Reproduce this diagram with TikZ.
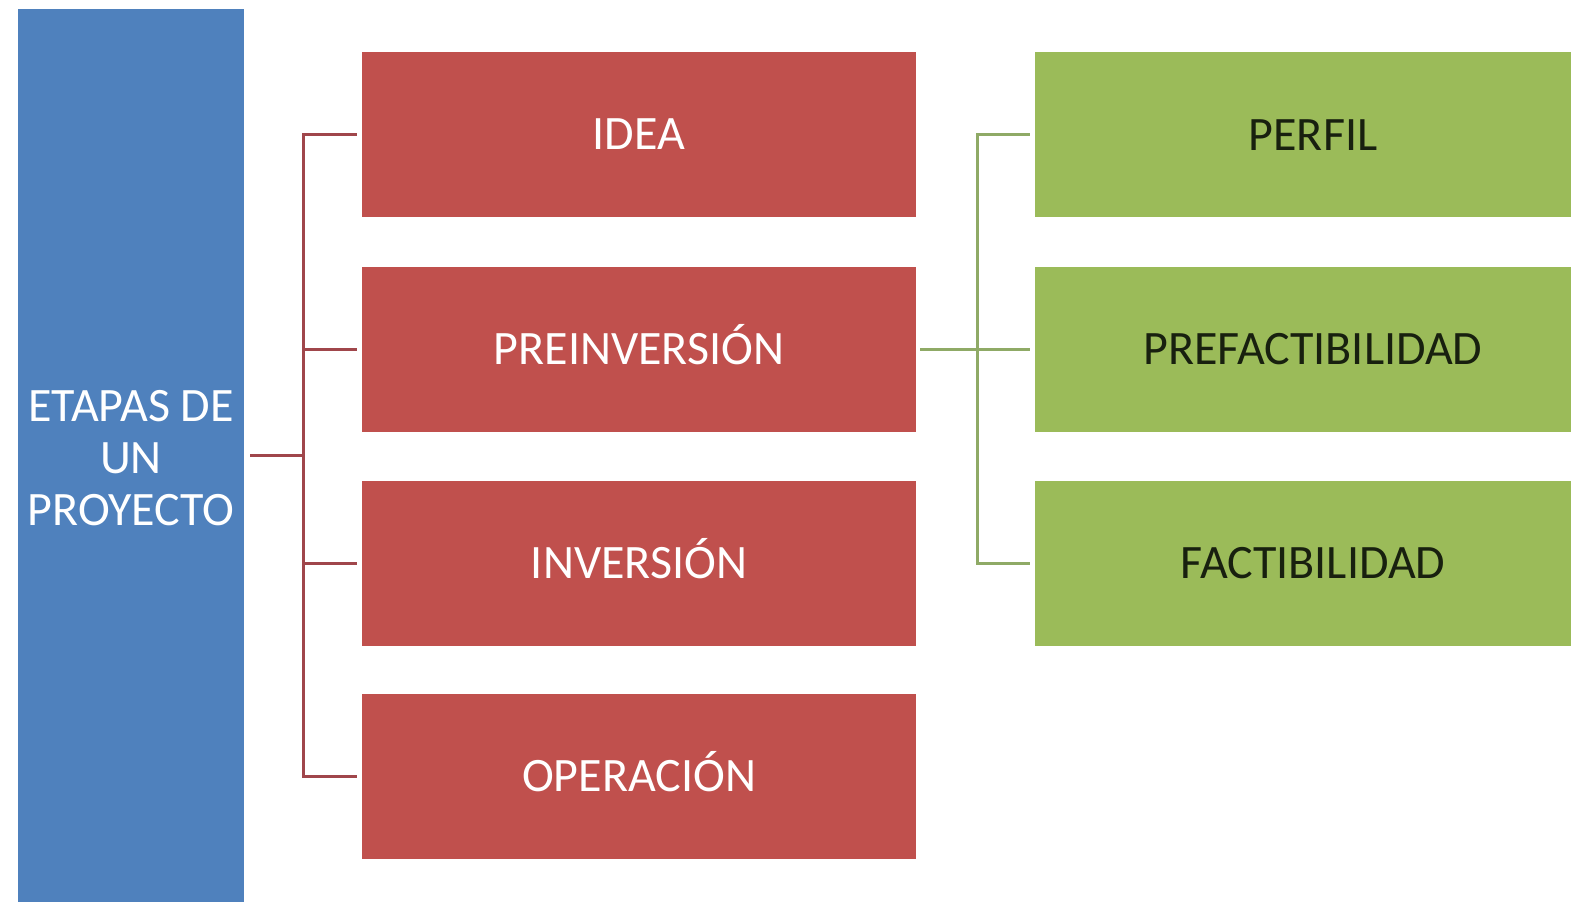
\documentclass[tikz,border=0pt]{standalone}
\usepackage{fontspec}
\setmainfont{Carlito}
\definecolor{cblue}{HTML}{4F81BD}
\definecolor{cred}{HTML}{C0504D}
\definecolor{cgreen}{HTML}{9BBB59}
\definecolor{credline}{HTML}{A0464B}
\definecolor{cgreenline}{HTML}{8FAA66}
\definecolor{cgtext}{HTML}{18200F}
\begin{document}
\begin{tikzpicture}[x=1pt,y=-1pt,
  box/.style={inner sep=0pt, draw=none, font=\fontsize{48}{52}\selectfont},
  redbox/.style={box, fill=cred, text=white, minimum width=554pt, minimum height=165pt, text height=31pt, text depth=0pt},
  greenbox/.style={box, fill=cgreen, text=cgtext, minimum width=556pt, minimum height=165pt, text height=31pt, text depth=0pt},
  redline/.style={draw=credline, line width=3pt},
  greenline/.style={draw=cgreenline, line width=3pt}]
\useasboundingbox[fill=white] (0,0) rectangle (1571,904);
\node[box, fill=cblue, minimum width=226pt, minimum height=893pt,
  label={[inner sep=0pt, text=white, align=center, font=\fontsize{48}{52}\selectfont, yshift=-3pt]center:ETAPAS DE\\UN\\PROYECTO}] (etapas) at (131,455.5) {};
\node[redbox] (idea) at (639,134.5) {IDEA};
\node[redbox] (prein) at (639,349) {PREINVERSIÓN};
\node[redbox] (inv) at (639,563) {INVERSIÓN};
\node[redbox] (oper) at (639,776) {OPERACIÓN};
\node[greenbox] (perfil) at (1313,135) {PERFIL};
\node[greenbox] (prefac) at (1313,349) {PREFACTIBILIDAD};
\node[greenbox] (fac) at (1313,563) {FACTIBILIDAD};
\coordinate (rb) at (303,455);
\coordinate (gb) at (977,349);
\draw[redline, shorten <=6pt] (etapas.east |- rb) -- (rb);
\foreach \n in {idea,prein,inv,oper}
  \draw[redline, shorten <=5pt] (\n.west) -| (rb);
\draw[greenline, shorten <=4pt] (prein.east) -- (gb);
\foreach \n in {perfil,prefac,fac}
  \draw[greenline, shorten <=5pt] (\n.west) -| (gb);
\end{tikzpicture}
\end{document}
